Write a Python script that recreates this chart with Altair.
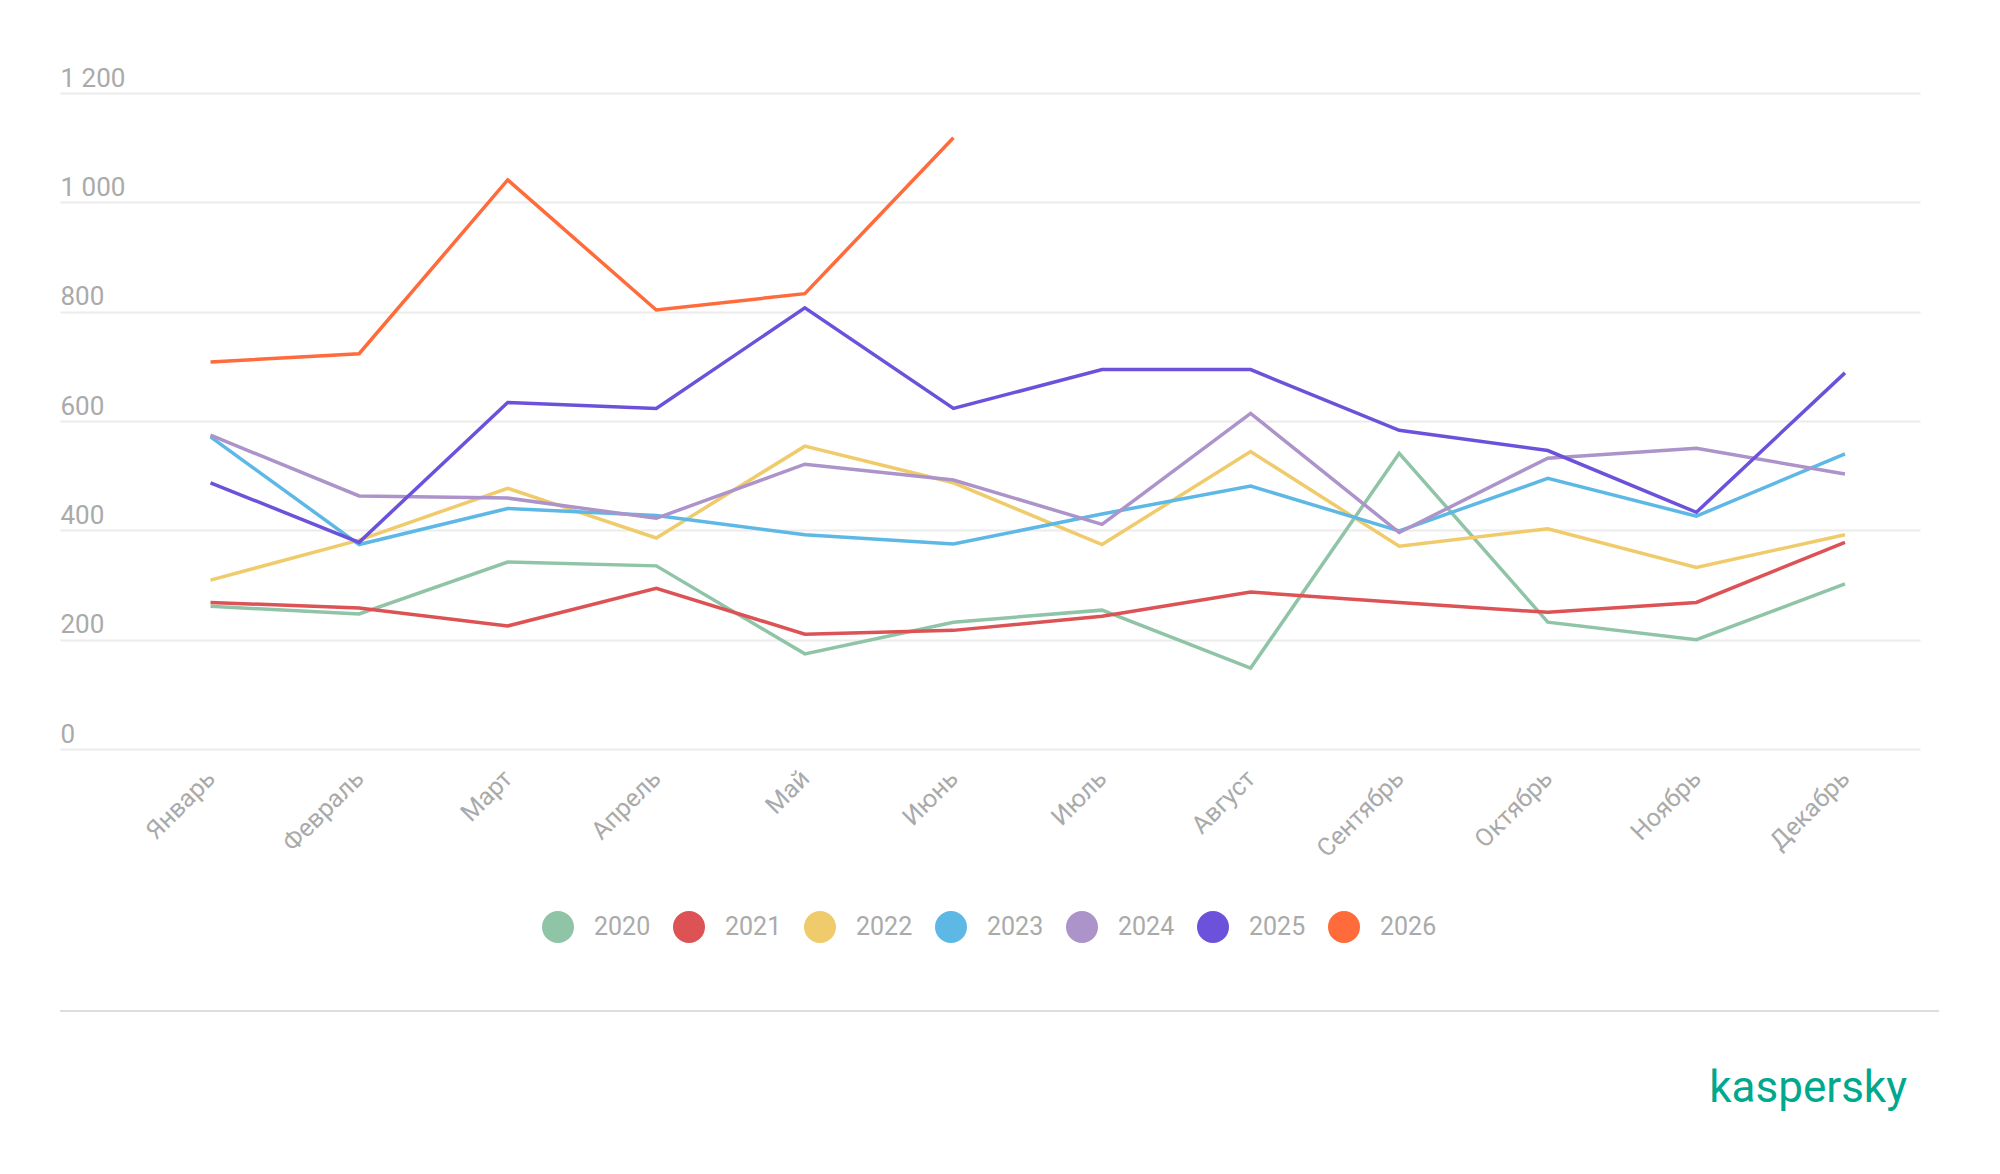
import altair as alt
import pandas as pd

months = ["Январь", "Февраль", "Март", "Апрель", "Май", "Июнь",
          "Июль", "Август", "Сентябрь", "Октябрь", "Ноябрь", "Декабрь"]
years = ["2020", "2021", "2022", "2023", "2024", "2025", "2026"]
colors = ["#8fc4a7", "#dc5255", "#f0cb6b", "#5eb8e6", "#ac93c9", "#6c52db", "#ff6b3a"]

v2020 = [261, 247, 342, 335, 174, 232, 254, 148, 541, 232, 200, 302]
v2021 = [268, 258, 225, 294, 210, 217, 243, 287, 268, 250, 268, 378]
v2022 = [309, 382, 477, 386, 554, 487, 374, 544, 371, 403, 332, 392]
v2023 = [571, 374, 440, 427, 392, 375, 430, 481, 399, 495, 426, 540]
v2024 = [574, 463, 459, 422, 521, 492, 411, 614, 396, 532, 550, 503]
v2025 = [487, 378, 634, 623, 807, 623, 694, 694, 583, 546, 433, 688]
v2026 = [708, 723, 1041, 803, 833, 1118]

series = [v2020, v2021, v2022, v2023, v2024, v2025, v2026]
rows = []
for y, vals in zip(years, series):
    for i, v in enumerate(vals):
        rows.append({"year": y, "m": i, "value": v})
df = pd.DataFrame(rows)

month_expr = "[" + ",".join('"%s"' % m for m in months) + "][datum.value]"

FONT = "Roboto"
GRAY = "#aaaaaa"

lines = alt.Chart(df).mark_line(strokeWidth=3.5).encode(
    x=alt.X("m:Q",
            scale=alt.Scale(domain=[-1.013, 11.505], nice=False, zero=False),
            axis=alt.Axis(values=list(range(12)), labelExpr=month_expr, title=None,
                          grid=False, domain=False, ticks=False, tickSize=0,
                          labelAngle=-45, labelAlign="right", labelBaseline="middle",
                          labelPadding=25, labelFontSize=25, labelColor=GRAY,
                          labelFont=FONT, labelOverlap=False, labelFlush=False)),
    y=alt.Y("value:Q",
            scale=alt.Scale(domain=[0, 1200], nice=False),
            axis=alt.Axis(values=[0, 200, 400, 600, 800, 1000, 1200], title=None,
                          labelExpr="replace(format(datum.value, ','), ',', ' ')",
                          grid=True, gridColor="#ebebeb", gridWidth=2,
                          domain=False, ticks=False, tickSize=0,
                          labelAlign="left", labelBaseline="alphabetic",
                          labelPadding=0, labelOffset=-7,
                          labelFontSize=26, labelColor=GRAY, labelFont=FONT,
                          labelFlush=False, labelOverlap=False)),
    color=alt.Color("year:N",
                    scale=alt.Scale(domain=years, range=colors),
                    legend=alt.Legend(title=None, orient="none", direction="horizontal",
                                      columns=7, legendX=482, legendY=818,
                                      symbolType="circle", symbolSize=256,
                                      symbolStrokeWidth=16, symbolOpacity=1,
                                      labelFontSize=25, labelColor=GRAY, labelFont=FONT,
                                      labelOffset=20, columnPadding=-2)),
    detail="year:N",
)

one = pd.DataFrame({"a": [0]})
rule = alt.Chart(one).mark_rule(color="#dddddd", strokeWidth=2).encode(
    x=alt.value(0), x2=alt.value(1879), y=alt.value(918)
)
logo = alt.Chart(one).mark_text(
    text="kaspersky", font=FONT, fontSize=44, color="#00a88e",
    align="right", baseline="alphabetic"
).encode(x=alt.value(1847), y=alt.value(1009))

chart = alt.layer(lines, rule, logo).properties(
    width=1860, height=656,
    padding={"left": 52, "top": 85, "right": 50, "bottom": 400},
    autosize=alt.AutoSizeParams(type="none"),
).configure_view(stroke=None)

chart.save("out.html", embed_options={"renderer": "svg", "actions": False})
